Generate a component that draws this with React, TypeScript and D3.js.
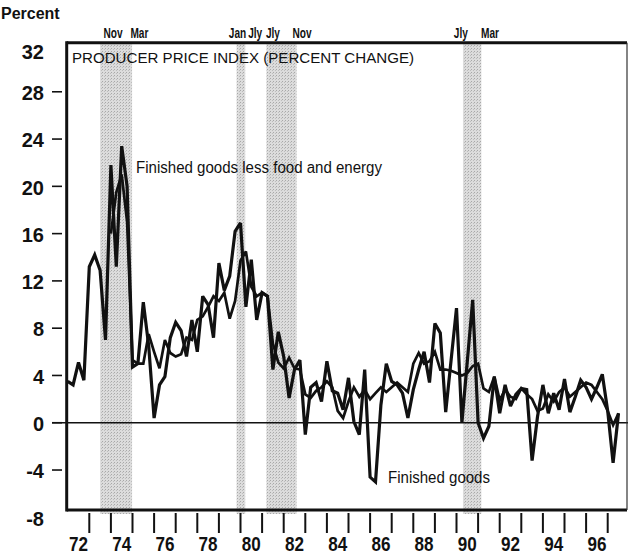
import React from 'react';
import * as d3 from 'd3';

const W = 628;
const H = 559;

// y axis
const yTickLabels = [32, 28, 24, 20, 16, 12, 8, 4, 0, -4, -8];
const yTickMarks = [28, 24, 20, 16, 12, 8, 4, 0, -4];

// x axis (year labels centered on the year, ticks at year boundaries)
const yearLabels = [72, 74, 76, 78, 80, 82, 84, 86, 88, 90, 92, 94, 96];
const yearTicks = [73, 74, 75, 76, 77, 78, 79, 80, 81, 82, 83, 84, 85, 86, 87, 88, 89, 90, 91, 92, 93, 94, 95, 96, 97];

// quarterly series, Finished goods, from 1972 Q1
const finishedGoods = [
  3.5, 3.2, 5.1, 3.6,
  13.2, 14.2, 12.9, 7.0,
  21.8, 13.2, 23.4, 20.0,
  4.7, 5.0, 10.2, 6.5,
  0.4, 3.2, 3.9, 7.2,
  8.5, 7.8, 5.6, 8.7,
  6.0, 10.7, 10.0, 7.2,
  13.5, 11.2, 12.4, 16.2,
  16.9, 9.8, 13.8, 8.7,
  11.0, 10.7, 4.5, 7.7,
  5.6, 2.1, 4.5, 5.3,
  -1.0, 3.0, 3.4, 1.8,
  5.2, 2.7, 2.5, 1.1,
  3.8, 0.1, -1.0, 4.5,
  -4.6, -5.0, 1.5, 5.0,
  3.5, 3.2, 2.5, 0.4,
  2.8, 4.5, 6.0, 3.4,
  8.4, 7.6, 0.9, 5.3,
  9.7, 0.0, 5.2, 10.4,
  0.0, -1.3, -0.3, 3.9,
  0.8, 3.2, 1.4, 2.4,
  2.9, 2.8, -3.2, 0.5,
  3.2, 0.8, 2.5, 1.1,
  3.7, 0.9, 2.2, 3.6,
  3.0, 2.0, 3.0, 4.1,
  1.0, -3.4, 0.8,
];

// quarterly series, Finished goods less food and energy, from 1974 Q1
const coreGoods = [
  16.0, 19.5, 21.0, 17.0,
  5.3, 5.0, 5.0, 7.5,
  6.0, 4.6, 7.0, 5.9,
  5.6, 5.8, 7.2, 7.0,
  8.7, 9.0, 9.8, 10.7,
  10.3, 11.0, 8.8, 10.3,
  13.7, 14.5, 11.5, 10.7,
  11.0, 10.7, 6.7, 5.1,
  4.6, 5.5, 4.6, 4.5,
  2.4, 2.1, 2.7, 3.0,
  3.5, 3.0, 1.0, 0.4,
  1.8, 3.0, 2.2, 2.8,
  2.0, 2.5, 3.0, 2.6,
  3.0, 3.4, 3.0, 2.6,
  5.0, 5.9, 5.0, 5.2,
  6.0, 4.5, 4.5, 4.4,
  4.2, 4.0, 4.2, 4.8,
  5.0, 2.9, 2.6, 3.9,
  1.9, 2.8, 2.2, 2.0,
  2.9, 2.4, 2.0, 1.0,
  1.2, 2.4, 1.8, 2.6,
  3.0, 2.2, 2.6, 3.0,
  3.4, 3.2, 2.6, 2.0,
  1.0, -0.2, 0.8,
];

// recession shading (decimal years) and their month labels
const recessionStarts = [73.5, 79.82, 81.2, 90.3];
const recessionEnds = [74.98, 80.22, 82.6, 91.15];
const monthLabelText = ['Nov', 'Mar', 'Jan', 'Jly', 'Jly', 'Nov', 'Jly', 'Mar'];
const monthLabelAt = [74.1, 75.32, 79.86, 80.68, 81.5, 82.85, 90.2, 91.55];

const FONT = 'Liberation Sans, Arial, Helvetica, sans-serif';

export default function App() {
  const left = 66.7;
  const right = 627;
  const top = 42.7;
  const bottom = 510;

  const x = d3.scaleLinear().domain([72, 98]).range([67.7, 629.3]);
  const y = d3.scaleLinear().domain([-8, 32]).range([517.3, 44.5]);

  const fgPts = finishedGoods.map((v, i) => [72 + i / 4, v] as [number, number]);
  const corePts = coreGoods.map((v, i) => [74 + i / 4, v] as [number, number]);
  const line = d3
    .line<[number, number]>()
    .x((d) => x(d[0]))
    .y((d) => y(d[1]));

  return (
    <svg
      width={W}
      height={H}
      style={{ position: 'absolute', left: 0, top: 0, background: '#fff' }}
      fontFamily={FONT}
    >
      <rect x={0} y={0} width={W} height={H} fill="#fff" />
      <defs>
        <pattern id="stip" width="3" height="3" patternUnits="userSpaceOnUse">
          <rect width="3" height="3" fill="#dcdcdc" />
          <rect width="1" height="1" fill="#a8a8a8" />
          <rect x="2" y="1" width="1" height="1" fill="#bdbdbd" />
        </pattern>
      </defs>

      {recessionStarts.map((s, i) => (
        <rect
          key={'r' + i}
          x={x(s)}
          y={top}
          width={x(recessionEnds[i]) - x(s)}
          height={bottom + 4 - top}
          fill="url(#stip)"
        />
      ))}

      {/* zero line */}
      <line x1={52} x2={W} y1={y(0)} y2={y(0)} stroke="#111" strokeWidth={1.6} />

      {/* series */}
      <path d={line(corePts) || ''} fill="none" stroke="#111" strokeWidth={2.7} strokeLinejoin="miter" strokeMiterlimit={3} />
      <path d={line(fgPts) || ''} fill="none" stroke="#111" strokeWidth={3.2} strokeLinejoin="miter" strokeMiterlimit={3} />

      {/* frame */}
      <line x1={left} x2={right} y1={top} y2={top} stroke="#111" strokeWidth={3} />
      <line x1={left} x2={right} y1={bottom} y2={bottom} stroke="#111" strokeWidth={3} />
      <line x1={left} x2={left} y1={top - 1.5} y2={bottom + 1.5} stroke="#111" strokeWidth={3} />
      <line x1={right} x2={right} y1={top} y2={bottom} stroke="#333" strokeWidth={1.2} />

      {/* y ticks */}
      {yTickMarks.map((v) => (
        <line key={'yt' + v} x1={52} x2={62} y1={y(v)} y2={y(v)} stroke="#111" strokeWidth={1.6} />
      ))}
      {yTickLabels.map((v) => (
        <text
          key={'yl' + v}
          x={44}
          y={Math.max(y(v) + 3, 54)}
          textAnchor="end"
          dominantBaseline="middle"
          fontSize={20}
          fontWeight="bold"
          fill="#111"
        >
          {v}
        </text>
      ))}

      {/* x ticks */}
      {yearTicks.map((t) => (
        <line key={'xt' + t} x1={x(t)} x2={x(t)} y1={513} y2={533} stroke="#111" strokeWidth={2} />
      ))}
      {yearLabels.map((t) => (
        <text
          key={'xl' + t}
          x={x(t + 0.5)}
          y={551}
          textAnchor="middle"
          fontSize={20}
          fontWeight="bold"
          fill="#111"
          textLength={19}
          lengthAdjust="spacingAndGlyphs"
        >
          {t}
        </text>
      ))}

      {/* month labels */}
      {monthLabelText.map((m, i) => (
        <text
          key={'m' + i}
          transform={`translate(${x(monthLabelAt[i])},38) scale(0.92,1.35)`}
          x={0}
          y={0}
          textAnchor="middle"
          fontSize={11}
          fontWeight="bold"
          fill="#111"
        >
          {m}
        </text>
      ))}

      <text x={1} y={19} fontSize={16} fontWeight="bold" fill="#111">
        Percent
      </text>

      <text x={72} y={63} fontSize={14} fill="#111" textLength={342} lengthAdjust="spacingAndGlyphs">
        PRODUCER PRICE INDEX (PERCENT CHANGE)
      </text>

      <text x={136} y={173} fontSize={16} fill="#111" textLength={246} lengthAdjust="spacingAndGlyphs">
        Finished goods less food and energy
      </text>
      <text x={388} y={483} fontSize={16} fill="#111" textLength={102} lengthAdjust="spacingAndGlyphs">
        Finished goods
      </text>
    </svg>
  );
}
